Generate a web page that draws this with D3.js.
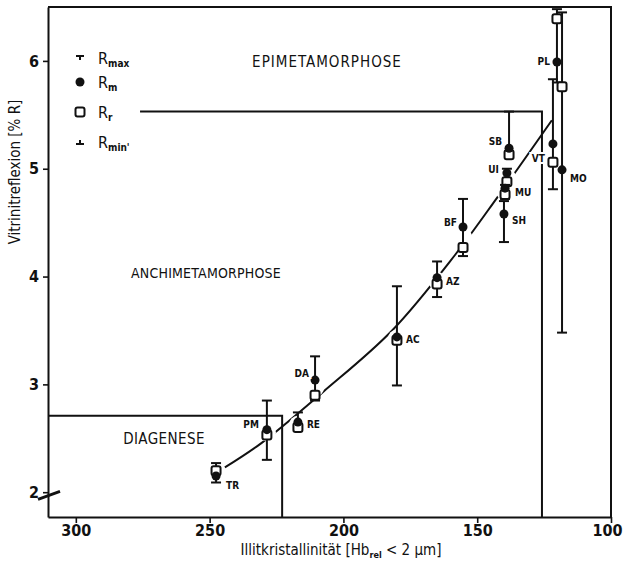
<!DOCTYPE html>
<html>
<head>
<meta charset="utf-8">
<script src="https://cdn.jsdelivr.net/npm/d3@7"></script>
<style>
body { margin: 0; background: #fff; }
text { font-family: "DejaVu Sans Condensed", "DejaVu Sans", sans-serif; fill: #111; }
</style>
</head>
<body>
<script>
var width  = 623,
	height = 563;

// samples (Illitkristallinitaet vs. Vitrinitreflexion)
var samples = ["TR","PM","RE","DA","AC","AZ","BF","SB","UI","MU","SH","VT","PL","MO"];
var illit   = [247.6,228.6,217.0,210.6,180.0,165.0,155.3,138.1,138.9,139.6,140.0,121.7,120.2,118.3];
var rMax    = [2.27,2.85,2.74,3.26,3.91,4.14,4.72,5.53,5.00,4.85,4.70,5.83,6.48,6.45];
var rM      = [2.15,2.58,2.65,3.04,3.44,3.99,4.46,5.19,4.96,4.82,4.58,5.23,5.99,4.99];
var rR      = [2.20,2.53,2.60,2.90,3.41,3.93,4.27,5.13,4.88,4.76,null,5.06,6.39,5.76];
var rMin    = [2.09,2.30,2.57,2.85,2.99,3.81,4.19,5.10,4.85,4.72,4.32,4.81,5.80,3.48];
var onCurve = [1,1,1,1,1,1,1,0,1,1,0,0,0,0];

// label offsets (px) and side
var labDx   = [10,-8,9,-6,9,9,-6,-7,-8,10,8,-8,-7,8];
var labDy   = [9,-5,2,-7,3,4,-4,-7,-4,4,6,15,0,9];

// trend curve
var curveX  = [244.3,230.4,207.6,181.8,158.3,142.6,122.1];
var curveY  = [2.23,2.46,2.93,3.50,4.20,4.73,5.45];

// zone boundaries
var diagX   = [310.4,222.9,222.9];
var diagY   = [2.71,2.71,1.77];
var epiX    = [276.0,125.8,125.8];
var epiY    = [5.53,5.53,1.77];

var xTicks  = [300,250,200,150,100];
var yTicks  = [2,3,4,5,6];

var legendNames = ["max","m","r","min'"];

var x = d3.scaleLinear().domain([310.4, 100]).range([48, 611]);
var y = d3.scaleLinear().domain([1.77, 6.5]).range([517, 7]);

var svg = d3.select("body")
	.append("svg")
	.attr("width", width)
	.attr("height", height);

// frame top + right
svg.append("path")
	.attr("d", "M" + x(310.4) + "," + y(6.5) + "H" + x(100) + "V" + y(1.77))
	.attr("fill", "none")
	.attr("stroke", "#111")
	.attr("stroke-width", 2);

// axes
var xAxis = svg.append("g")
	.attr("transform", "translate(0," + y(1.77) + ")")
	.call(d3.axisBottom(x).tickValues(xTicks).tickFormat(d3.format("d")).tickSize(6).tickPadding(2).tickSizeOuter(0));
var yAxis = svg.append("g")
	.attr("transform", "translate(" + x(310.4) + ",0)")
	.call(d3.axisLeft(y).tickValues(yTicks).tickFormat(d3.format("d")).tickSize(5).tickPadding(4).tickSizeOuter(0));

[xAxis, yAxis].forEach(function(g) {
	g.select(".domain").attr("stroke", "#111").attr("stroke-width", 2);
	g.selectAll(".tick line").attr("stroke", "#111").attr("stroke-width", 1.6);
	g.selectAll(".tick text")
		.attr("fill", "#111")
		.style("font-family", "'DejaVu Sans Condensed', sans-serif")
		.style("font-size", "16px")
		.style("font-weight", "bold");
});
xAxis.selectAll(".tick text").filter(function(d) { return d == 100; }).attr("dx", -4);

// axis break
svg.append("line")
	.attr("x1", x(310.4) - 10).attr("y1", y(1.98) + 5)
	.attr("x2", x(310.4) + 12).attr("y2", y(1.98) - 3)
	.attr("stroke", "#111")
	.attr("stroke-width", 3);

// zone lines
var line = d3.line()
	.x(function(d) { return x(d[0]); })
	.y(function(d) { return y(d[1]); });

svg.append("path")
	.attr("d", line(d3.zip(diagX, diagY)))
	.attr("fill", "none").attr("stroke", "#111").attr("stroke-width", 2);
svg.append("path")
	.attr("d", line(d3.zip(epiX, epiY)))
	.attr("fill", "none").attr("stroke", "#111").attr("stroke-width", 2);

// trend curve
svg.append("path")
	.attr("d", line.curve(d3.curveCatmullRom)(d3.zip(curveX, curveY)))
	.attr("fill", "none").attr("stroke", "#111").attr("stroke-width", 2);

// knockouts around points on the curve
samples.forEach(function(s, i) {
	if (!onCurve[i]) return;
	var cy = rR[i] != null ? (rR[i] + rM[i]) / 2 : rM[i];
	svg.append("circle")
		.attr("cx", x(illit[i]))
		.attr("cy", y(cy))
		.attr("r", 9)
		.attr("fill", "#fff");
});

// error bars and markers
samples.forEach(function(s, i) {
	var cx = x(illit[i]);
	svg.append("line")
		.attr("x1", cx).attr("x2", cx)
		.attr("y1", y(rMax[i])).attr("y2", y(rMin[i]))
		.attr("stroke", "#111").attr("stroke-width", 2);
	[rMax[i], rMin[i]].forEach(function(v) {
		svg.append("line")
			.attr("x1", cx - 5).attr("x2", cx + 5)
			.attr("y1", y(v)).attr("y2", y(v))
			.attr("stroke", "#111").attr("stroke-width", 2);
	});
	if (rR[i] != null) {
		svg.append("rect")
			.attr("x", cx - 4.5).attr("y", y(rR[i]) - 4.5)
			.attr("width", 9).attr("height", 9)
			.attr("rx", 2)
			.attr("fill", "#fff").attr("stroke", "#111").attr("stroke-width", 2);
	}
	svg.append("circle")
		.attr("cx", cx).attr("cy", y(rM[i]))
		.attr("r", 4.5)
		.attr("fill", "#111");

	svg.append("text")
		.attr("x", cx + labDx[i])
		.attr("y", y(rM[i]) + labDy[i])
		.attr("dy", "0.35em")
		.attr("text-anchor", labDx[i] < 0 ? "end" : "start")
		.attr("stroke", "#fff").attr("stroke-width", 4)
		.attr("paint-order", "stroke")
		.style("font-size", "10px")
		.style("font-weight", "bold")
		.text(s);
});

// zone names
svg.append("text").attr("x", 327).attr("y", 67).attr("text-anchor", "middle")
	.style("font-size", "15px").style("letter-spacing", "1px").text("EPIMETAMORPHOSE");
svg.append("text").attr("x", 206).attr("y", 278).attr("text-anchor", "middle")
	.style("font-size", "14px").style("letter-spacing", "0.2px").text("ANCHIMETAMORPHOSE");
svg.append("text").attr("x", 164).attr("y", 444).attr("text-anchor", "middle")
	.style("font-size", "15px").style("letter-spacing", "0.4px").text("DIAGENESE");

// legend
var legend = svg.append("g").attr("transform", "translate(80,0)");
var legY = [58, 82, 112, 142];
legendNames.forEach(function(n, i) {
	var g = legend.append("g").attr("transform", "translate(0," + legY[i] + ")");
	if (i == 0) {
		g.append("path").attr("d", "M-4,-2H4M0,-2V2").attr("stroke", "#111").attr("stroke-width", 2);
	} else if (i == 1) {
		g.append("circle").attr("r", 4.5).attr("fill", "#111");
	} else if (i == 2) {
		g.append("rect").attr("x", -4.5).attr("y", -4.5).attr("width", 9).attr("height", 9).attr("rx", 2)
			.attr("fill", "#fff").attr("stroke", "#111").attr("stroke-width", 2);
	} else {
		g.append("path").attr("d", "M-4,2H4M0,2V-2").attr("stroke", "#111").attr("stroke-width", 2);
	}
	var t = g.append("text").attr("x", 18).attr("y", 6).style("font-size", "16px");
	t.append("tspan").text("R");
	t.append("tspan").attr("dy", 3).style("font-size", "10px").style("font-weight", "bold").text(n);
});

// axis titles
var xt = svg.append("text")
	.attr("x", 341).attr("y", 555)
	.attr("text-anchor", "middle")
	.style("font-size", "15px");
xt.append("tspan").text("Illitkristallinität  [Hb");
xt.append("tspan").attr("dy", 3).style("font-size", "9px").style("font-weight", "bold").text("rel");
xt.append("tspan").attr("dy", -3).text(" < 2 µm]");

svg.append("text")
	.attr("transform", "translate(20,172) rotate(-90)")
	.attr("text-anchor", "middle")
	.style("font-size", "15px")
	.text("Vitrinitreflexion  [% R]");
</script>
</body>
</html>
